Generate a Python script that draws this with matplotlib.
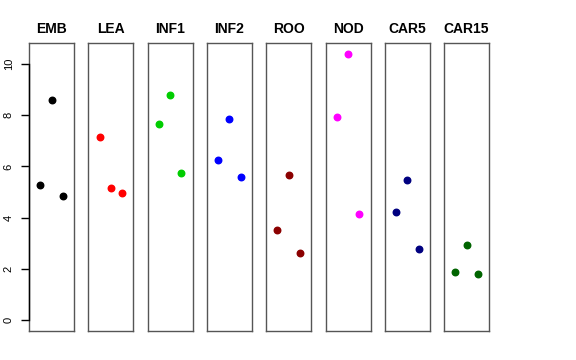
import matplotlib
matplotlib.use("Agg")
import matplotlib.pyplot as plt

plt.rcParams['font.family'] = ['Liberation Sans', 'DejaVu Sans']

tissues = ['EMB', 'LEA', 'INF1', 'INF2', 'ROO', 'NOD', 'CAR5', 'CAR15']
colors = ['black', 'red', '#00CD00', 'blue', '#8B0000', 'magenta', '#000080', '#006400']
reps = [1, 2, 3]
emb = [5.27, 8.59, 4.84]
lea = [7.15, 5.16, 4.96]
inf1 = [7.67, 8.79, 5.74]
inf2 = [6.26, 7.84, 5.59]
roo = [3.54, 5.65, 2.63]
nod = [7.92, 10.40, 4.13]
car5 = [4.22, 5.48, 2.80]
car15 = [1.87, 2.92, 1.80]
values = [emb, lea, inf1, inf2, roo, nod, car5, car15]
yticks = [0, 2, 4, 6, 8, 10]

W, H = 576, 360
fig = plt.figure(figsize=(W / 100, H / 100), dpi=100)

ymax = max(max(v) for v in values)
pad = 0.04 * ymax
for i, (name, col, vals) in enumerate(zip(tissues, colors, values)):
    left = 29 + i * 59.3
    ax = fig.add_axes([left / W, (H - 331) / H, 45 / W, (331 - 43) / H])
    ax.scatter(reps, vals, s=22, color=col, zorder=3)
    ax.set_xlim(0, 4)
    ax.set_ylim(-pad, ymax + pad)
    ax.set_xticks([])
    for sp in ax.spines.values():
        sp.set_color('#555555')
        sp.set_linewidth(1)
    ax.set_title(name, fontsize=10, fontweight='bold', pad=7)
    if i == 0:
        ax.set_yticks(yticks)
        ax.tick_params(axis='y', labelsize=8, length=6, pad=5, width=1,
                       color='black', labelcolor='black')
        for lab in ax.get_yticklabels():
            lab.set_rotation(90)
            lab.set_va('center')
        # R-style axis line spanning only the tick range
        ax.plot([0, 0], [yticks[0], yticks[-1]], color='black', lw=1,
                clip_on=False, zorder=4)
    else:
        ax.set_yticks([])

fig.savefig('out.png', dpi=100)
